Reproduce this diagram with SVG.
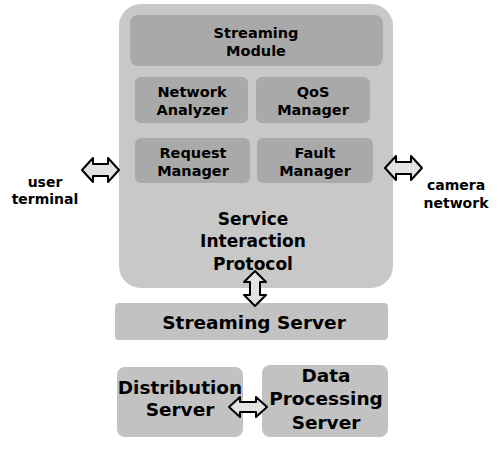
<svg xmlns="http://www.w3.org/2000/svg" width="502" height="449" viewBox="0 0 502 449">
<style>
.outer{fill:#c8c8c8}
.inner{fill:#a9a9a9}
.box{fill:#c2c2c2}
.t{font-family:"DejaVu Sans",sans-serif;font-weight:bold;fill:#000;text-anchor:middle}
.s{font-size:14.5px}
.m{font-size:17px}
.l{font-size:18.5px}
.lab{font-family:"DejaVu Sans",sans-serif;font-weight:bold;font-size:14px;fill:#000;text-anchor:middle}
.arr{fill:#e2e2e2;stroke:#000;stroke-width:2;stroke-linejoin:round}
</style>
<rect width="502" height="449" fill="#fff"/>
<g id="main">
<rect class="outer" x="119" y="4" width="274" height="284" rx="22"/>
</g>
<g id="streaming-module">
<rect class="inner" x="130" y="15" width="253" height="51" rx="8"/>
<text class="t s" x="256" y="38">Streaming</text>
<text class="t s" x="256" y="56">Module</text>
</g>
<g id="network-analyzer">
<rect class="inner" x="135" y="77" width="113" height="46" rx="6"/>
<text class="t s" x="192" y="97">Network</text>
<text class="t s" x="192" y="115">Analyzer</text>
</g>
<g id="qos-manager">
<rect class="inner" x="256" y="77" width="114" height="46" rx="6"/>
<text class="t s" x="313" y="97">QoS</text>
<text class="t s" x="313" y="115">Manager</text>
</g>
<g id="request-manager">
<rect class="inner" x="135" y="138" width="115" height="45" rx="6"/>
<text class="t s" x="193" y="158">Request</text>
<text class="t s" x="193" y="176">Manager</text>
</g>
<g id="fault-manager">
<rect class="inner" x="257" y="138" width="116" height="45" rx="6"/>
<text class="t s" x="315" y="158">Fault</text>
<text class="t s" x="315" y="176">Manager</text>
</g>
<g id="service-interaction-protocol">
<text class="t m" x="253" y="225">Service</text>
<text class="t m" x="253" y="247">Interaction</text>
<text class="t m" x="253" y="270">Protocol</text>
</g>
<g id="streaming-server">
<rect class="box" x="115" y="303" width="273" height="37" rx="4"/>
<text class="t l" x="254" y="329">Streaming Server</text>
</g>
<g id="distribution-server">
<rect class="box" x="117" y="367" width="126" height="70" rx="8"/>
<text class="t l" x="180" y="394">Distribution</text>
<text class="t l" x="180" y="416">Server</text>
</g>
<g id="data-processing-server">
<rect class="box" x="262" y="365" width="126" height="72" rx="8"/>
<text class="t l" x="326" y="382">Data</text>
<text class="t l" x="326" y="405">Processing</text>
<text class="t l" x="326" y="429">Server</text>
</g>
<g id="user-terminal">
<text class="lab" x="45" y="187">user</text>
<text class="lab" x="45" y="204">terminal</text>
</g>
<g id="camera-network">
<text class="lab" x="456" y="190">camera</text>
<text class="lab" x="456" y="208">network</text>
</g>
<g id="connectors">
<path class="arr" d="M82,170 L93,158 L93,164 L108,164 L108,158 L119,170 L108,182 L108,176 L93,176 L93,182 Z"/>
<path class="arr" d="M385,168 L396,156 L396,162 L411,162 L411,156 L422,168 L411,180 L411,174 L396,174 L396,180 Z"/>
<path class="arr" d="M255,271 L266,282 L260,282 L260,295 L266,295 L255,306 L244,295 L250,295 L250,282 L244,282 Z"/>
<path class="arr" d="M229,407 L240,397 L240,402 L256,402 L256,397 L267,407 L256,417 L256,412 L240,412 L240,417 Z"/>
</g>
</svg>
